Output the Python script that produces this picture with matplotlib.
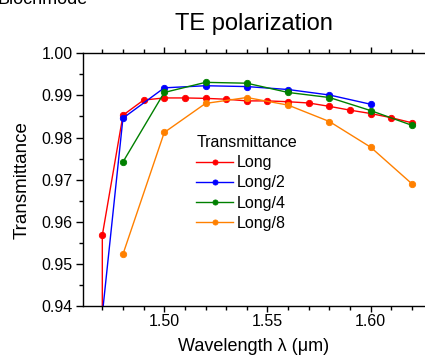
import matplotlib
matplotlib.use("Agg")
import matplotlib.pyplot as plt
from matplotlib.ticker import MultipleLocator

plt.rcParams["font.family"] = ["Liberation Sans", "DejaVu Sans"]

# wavelength (um) and transmittance
wl_long = [1.47, 1.47, 1.48, 1.49, 1.50, 1.51, 1.52, 1.53, 1.54, 1.55,
           1.56, 1.57, 1.58, 1.59, 1.60, 1.61, 1.62]
t_long = [0.920, 0.9568, 0.9853, 0.9889, 0.9894, 0.9894, 0.9893, 0.9891, 0.9887, 0.9887,
          0.9885, 0.9882, 0.9874, 0.9865, 0.9857, 0.9847, 0.9835]

wl_half = [1.47, 1.48, 1.50, 1.52, 1.54, 1.56, 1.58, 1.60]
t_half = [0.938, 0.9846, 0.9918, 0.9923, 0.9921, 0.9914, 0.9901, 0.9879]

wl_quarter = [1.48, 1.50, 1.52, 1.54, 1.56, 1.58, 1.60, 1.62]
t_quarter = [0.9742, 0.9907, 0.9931, 0.9929, 0.9907, 0.9895, 0.9864, 0.9829]

wl_eighth = [1.48, 1.50, 1.52, 1.54, 1.56, 1.58, 1.60, 1.62]
t_eighth = [0.9523, 0.9812, 0.9881, 0.9895, 0.9877, 0.9838, 0.9777, 0.9690]

series = [
    ("Long", wl_long, t_long, "#ff0000"),
    ("Long/2", wl_half, t_half, "#0000ff"),
    ("Long/4", wl_quarter, t_quarter, "#008000"),
    ("Long/8", wl_eighth, t_eighth, "#ff8000"),
]

fig = plt.figure(figsize=(4.25, 3.6), dpi=100)
ax = fig.add_axes([82.7 / 425, 1 - 306 / 360, 1 - 82.7 / 425, (306 - 53.3) / 360])

for label, xs, ys, color in series:
    ax.plot(xs, ys, color=color, linewidth=1.0, marker="o", markersize=4.6,
            markerfacecolor=color, markeredgecolor=color, markeredgewidth=0.6,
            label=label)

ax.set_xlim(1.4605, 1.6263)
ax.set_ylim(0.94, 1.00)
ax.xaxis.set_major_locator(MultipleLocator(0.05))
ax.xaxis.set_minor_locator(MultipleLocator(0.01))
ax.yaxis.set_major_locator(MultipleLocator(0.01))
ax.yaxis.set_minor_locator(MultipleLocator(0.005))
ax.xaxis.set_major_formatter(plt.FormatStrFormatter("%.2f"))
ax.yaxis.set_major_formatter(plt.FormatStrFormatter("%.2f"))
ax.spines["right"].set_visible(False)
for s in ("left", "bottom", "top"):
    ax.spines[s].set_linewidth(1.0)
ax.tick_params(axis="both", which="major", direction="out", length=5, width=1,
               labelsize=11.5, pad=2)
ax.tick_params(axis="both", which="minor", direction="out", length=3, width=1)
ax.tick_params(axis="x", which="both", top=True)
ax.tick_params(axis="x", which="major", top=True, length=4)

ax.set_xlabel("Wavelength λ (μm)", fontsize=13, labelpad=6)
ax.set_ylabel("Transmittance", fontsize=13.5, labelpad=8)
ax.set_title("TE polarization", fontsize=17, pad=17)

leg = ax.legend(title="Transmittance", loc="upper left", frameon=False,
                bbox_to_anchor=(185 / 425, 1 - 124 / 360), bbox_transform=fig.transFigure,
                fontsize=11.5, title_fontsize=11.5, handlelength=2.3, markerscale=0.8,
                handletextpad=0.25, labelspacing=0.32, borderpad=0.2)
leg._legend_box.align = "left"

fig.text(-0.005, 1 - 3.5 / 360, "Blochmode", fontsize=13, va="baseline", ha="left")

fig.savefig("out.png", dpi=100)
